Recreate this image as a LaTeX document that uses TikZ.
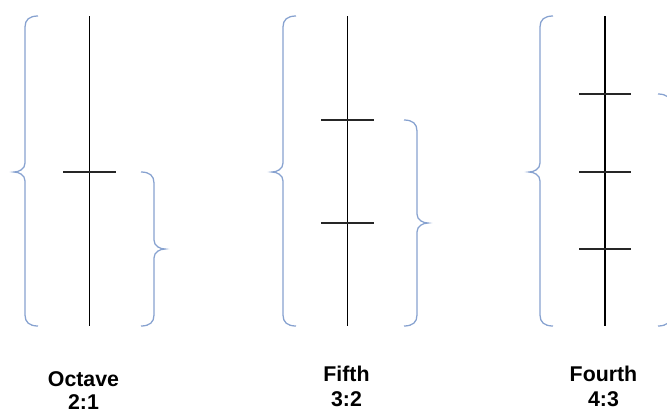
\documentclass[tikz,border=0pt]{standalone}
\usepackage{fontspec}
\setmainfont{Liberation Sans}
\usepackage{xcolor}
\usepackage{tikz}
\usetikzlibrary{positioning}
\definecolor{brcblue}{RGB}{135,162,208}
% left brace: tip x, top y, tip y, bottom y
\newcommand{\bracel}[4]{%
  \draw[brc] ({#1+24},#2) .. controls ({#1+15},#2) and ({#1+11},{#2+4}) .. ({#1+11},{#2+11})
    -- ({#1+11},{#3-9}) .. controls ({#1+11},{#3-3}) and ({#1+5},#3) .. (#1,#3)
    .. controls ({#1+5},#3) and ({#1+11},{#3+3}) .. ({#1+11},{#3+9})
    -- ({#1+11},{#4-11}) .. controls ({#1+11},{#4-4}) and ({#1+15},#4) .. ({#1+24},#4);}
% right brace: tip x, top y, tip y, bottom y
\newcommand{\bracer}[4]{%
  \draw[brc] ({#1-24},#2) .. controls ({#1-15},#2) and ({#1-11},{#2+4}) .. ({#1-11},{#2+11})
    -- ({#1-11},{#3-9}) .. controls ({#1-11},{#3-3}) and ({#1-5},#3) .. (#1,#3)
    .. controls ({#1-5},#3) and ({#1-11},{#3+3}) .. ({#1-11},{#3+9})
    -- ({#1-11},{#4-11}) .. controls ({#1-11},{#4-4}) and ({#1-15},#4) .. ({#1-24},#4);}

\begin{document}
\begin{tikzpicture}[
  x=0.75pt,y=-0.75pt,
  brc/.style={draw=brcblue,line width=0.95pt},
  strg/.style={draw=black,line width=1pt},
  tick/.style={draw=black!85,line width=1pt},
  lbl/.style={anchor=base,inner sep=0pt,
    font=\bfseries\fontsize{16}{19}\selectfont}
]
\useasboundingbox (0,0) rectangle (667,412);
\clip (0,0) rectangle (667,412);
% strings
\foreach \n/\x in {oct/89.5,fif/347.3,fou/605}{
  \coordinate (\n top) at (\x,16);
  \coordinate (\n bot) at (\x,326);
  \draw[strg] (\n top) -- (\n bot);
}
% stops
\foreach \n/\y in {oct1/172}
  \draw[tick] (63,\y) -- (116,\y);
\foreach \n/\y in {fif1/120,fif2/223}
  \draw[tick] (321,\y) -- (374,\y);
\foreach \n/\y in {fou1/94,fou2/172,fou3/249}
  \draw[tick] (579,\y) -- (631,\y);
% braces
\bracel{14}{16}{172}{326}
\bracel{272}{16}{172}{326}
\bracel{529}{16}{172}{326}
\bracer{165}{172}{249}{326}
\bracer{428}{120}{223}{326}
\bracer{682}{94}{210}{326}
% labels
\node[lbl] (octave) at (83.5,386) {Octave};
\node[lbl] (octave ratio) at (83.5,409) {2:1};
\node[lbl] (fifth) at (346.5,381) {Fifth};
\node[lbl] (fifth ratio) at (346.5,406) {3:2};
\node[lbl] (fourth) at (603.5,381) {Fourth};
\node[lbl] (fourth ratio) at (603.5,406) {4:3};
\end{tikzpicture}
\end{document}
